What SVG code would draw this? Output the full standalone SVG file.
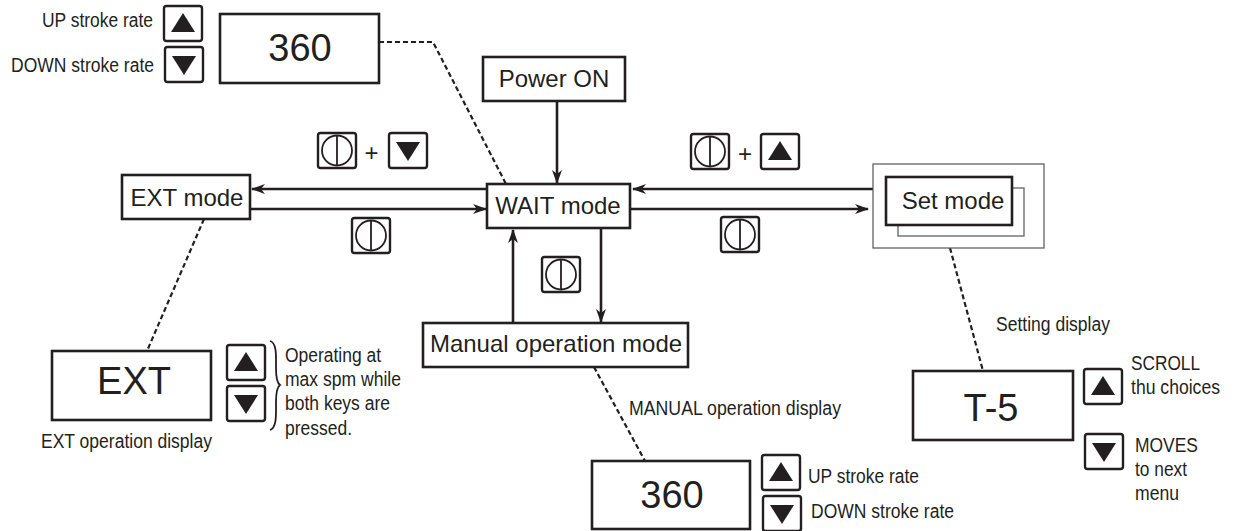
<svg xmlns="http://www.w3.org/2000/svg" xmlns:xlink="http://www.w3.org/1999/xlink" width="1234" height="531" viewBox="0 0 1234 531">
<style>
.box{fill:#fff;stroke:#231f20;stroke-width:2.6}
.thin{fill:#fff;stroke:#555;stroke-width:1.2}
.big{font-family:"Liberation Sans",Arial,sans-serif;font-size:24px;fill:#231f20}
.disp{font-family:"Liberation Sans",Arial,sans-serif;font-size:38px;fill:#231f20;text-anchor:middle}
.lbl{font-family:"Liberation Sans",Arial,sans-serif;font-size:20px;fill:#231f20}
.conn{stroke:#231f20;stroke-width:2.6;fill:none}
.dash{stroke:#231f20;stroke-width:2.2;fill:none;stroke-dasharray:5 3}
.key{fill:#fff;stroke:#231f20;stroke-width:2.4}
.tri{fill:#231f20}
.pw{fill:none;stroke:#231f20;stroke-width:1.8}
</style>
<defs>
<marker id="arr" viewBox="0 0 14 10" refX="13" refY="5" markerWidth="14" markerHeight="10" markerUnits="userSpaceOnUse" orient="auto">
<path d="M0,0 L14,5 L0,10 L4,5 Z" fill="#231f20"/>
</marker>
<g id="kup"><rect class="key" x="0" y="0" width="38" height="35" rx="2.5"/><polygon class="tri" points="19,7 31,26 7,26"/></g>
<g id="kdown"><rect class="key" x="0" y="0" width="38" height="35" rx="2.5"/><polygon class="tri" points="7,9 31,9 19,28"/></g>
<g id="kpow"><rect class="key" x="0" y="0" width="38" height="35" rx="2.5"/><circle class="pw" cx="19" cy="17.5" r="15"/><line class="pw" x1="19" y1="2.5" x2="19" y2="32.5"/></g>
</defs>

<g id="connectors">
<line class="conn" x1="557" y1="101" x2="557" y2="183" marker-end="url(#arr)"/>
<line class="conn" x1="487" y1="189" x2="252" y2="189" marker-end="url(#arr)"/>
<line class="conn" x1="250" y1="209" x2="486" y2="209" marker-end="url(#arr)"/>
<line class="conn" x1="873" y1="189" x2="633" y2="189" marker-end="url(#arr)"/>
<line class="conn" x1="630" y1="209" x2="868" y2="209" marker-end="url(#arr)"/>
<line class="conn" x1="513" y1="323" x2="513" y2="230" marker-end="url(#arr)"/>
<line class="conn" x1="601" y1="228" x2="601" y2="322" marker-end="url(#arr)"/>
<polyline class="dash" points="379,42 433,42 506,184"/>
<line class="dash" x1="204" y1="219" x2="147" y2="351"/>
<line class="dash" x1="594" y1="367" x2="645" y2="461"/>
<line class="dash" x1="950" y1="248" x2="983" y2="371"/>
</g>

<g id="top-display">
<rect class="box" x="220" y="14" width="159" height="69"/>
<text class="disp" x="300" y="61">360</text>
<use xlink:href="#kup" x="164" y="6"/>
<use xlink:href="#kdown" x="165" y="47"/>
<text class="lbl" x="42" y="27" textLength="111" lengthAdjust="spacingAndGlyphs">UP stroke rate</text>
<text class="lbl" x="11" y="72" textLength="143" lengthAdjust="spacingAndGlyphs">DOWN stroke rate</text>
</g>

<g id="power-on">
<rect class="box" x="483" y="57" width="142" height="44"/>
<text class="big" x="554" y="87" text-anchor="middle">Power ON</text>
</g>

<g id="ext-mode">
<rect class="box" x="122" y="175" width="128" height="44"/>
<text class="big" x="187" y="206" text-anchor="middle">EXT mode</text>
</g>

<g id="wait-mode">
<rect class="box" x="487" y="184" width="143" height="44"/>
<text class="big" x="558" y="214" text-anchor="middle">WAIT mode</text>
</g>

<g id="set-mode">
<rect class="thin" x="873" y="164" width="171" height="84"/>
<rect class="thin" x="898" y="188" width="126" height="48"/>
<rect class="box" x="886" y="177" width="126" height="48"/>
<text class="big" x="953" y="209" text-anchor="middle">Set mode</text>
</g>

<g id="manual-mode">
<rect class="box" x="423" y="323" width="265" height="44"/>
<text class="big" x="556" y="352" text-anchor="middle">Manual operation mode</text>
</g>

<g id="keys-ext">
<use xlink:href="#kpow" x="318" y="133"/>
<text class="big" x="371.5" y="161" text-anchor="middle">+</text>
<use xlink:href="#kdown" x="389" y="133"/>
<use xlink:href="#kpow" x="352" y="218"/>
</g>

<g id="keys-set">
<use xlink:href="#kpow" x="691" y="134"/>
<text class="big" x="745" y="162" text-anchor="middle">+</text>
<use xlink:href="#kup" x="761" y="134"/>
<use xlink:href="#kpow" x="721" y="217"/>
</g>

<g id="keys-manual">
<use xlink:href="#kpow" x="542" y="257"/>
</g>

<g id="ext-display">
<rect class="box" x="52" y="351" width="159" height="69"/>
<text class="disp" x="134" y="394">EXT</text>
<use xlink:href="#kup" x="227" y="345"/>
<use xlink:href="#kdown" x="227" y="386"/>
<path d="M270,341 C277,343 276,356 276,368 C276,378 277,383 280,385 C277,387 276,392 276,402 C276,414 277,428 270,430" fill="none" stroke="#231f20" stroke-width="1.8"/>
<text class="lbl" x="285" y="362" textLength="96" lengthAdjust="spacingAndGlyphs">Operating at</text>
<text class="lbl" x="285" y="386" textLength="116" lengthAdjust="spacingAndGlyphs">max spm while</text>
<text class="lbl" x="285" y="410" textLength="105" lengthAdjust="spacingAndGlyphs">both keys are</text>
<text class="lbl" x="285" y="435" textLength="67" lengthAdjust="spacingAndGlyphs">pressed.</text>
<text class="lbl" x="41" y="448" textLength="171" lengthAdjust="spacingAndGlyphs">EXT operation display</text>
</g>

<g id="manual-display">
<text class="lbl" x="629" y="415" textLength="212" lengthAdjust="spacingAndGlyphs">MANUAL operation display</text>
<rect class="box" x="592" y="461" width="158" height="68"/>
<text class="disp" x="672" y="508">360</text>
<use xlink:href="#kup" x="762" y="455"/>
<use xlink:href="#kdown" x="763" y="496"/>
<text class="lbl" x="808" y="483" textLength="111" lengthAdjust="spacingAndGlyphs">UP stroke rate</text>
<text class="lbl" x="811" y="518" textLength="143" lengthAdjust="spacingAndGlyphs">DOWN stroke rate</text>
</g>

<g id="set-display">
<text class="lbl" x="996" y="331" textLength="114" lengthAdjust="spacingAndGlyphs">Setting display</text>
<rect class="box" x="913" y="371" width="160" height="69"/>
<text class="disp" x="991" y="421">T-5</text>
<use xlink:href="#kup" x="1084" y="369"/>
<use xlink:href="#kdown" x="1085" y="434"/>
<text class="lbl" x="1131" y="370" textLength="69" lengthAdjust="spacingAndGlyphs">SCROLL</text>
<text class="lbl" x="1131" y="394" textLength="89" lengthAdjust="spacingAndGlyphs">thu choices</text>
<text class="lbl" x="1135" y="452" textLength="63" lengthAdjust="spacingAndGlyphs">MOVES</text>
<text class="lbl" x="1135" y="476" textLength="52" lengthAdjust="spacingAndGlyphs">to next</text>
<text class="lbl" x="1135" y="500" textLength="44" lengthAdjust="spacingAndGlyphs">menu</text>
</g>
</svg>
